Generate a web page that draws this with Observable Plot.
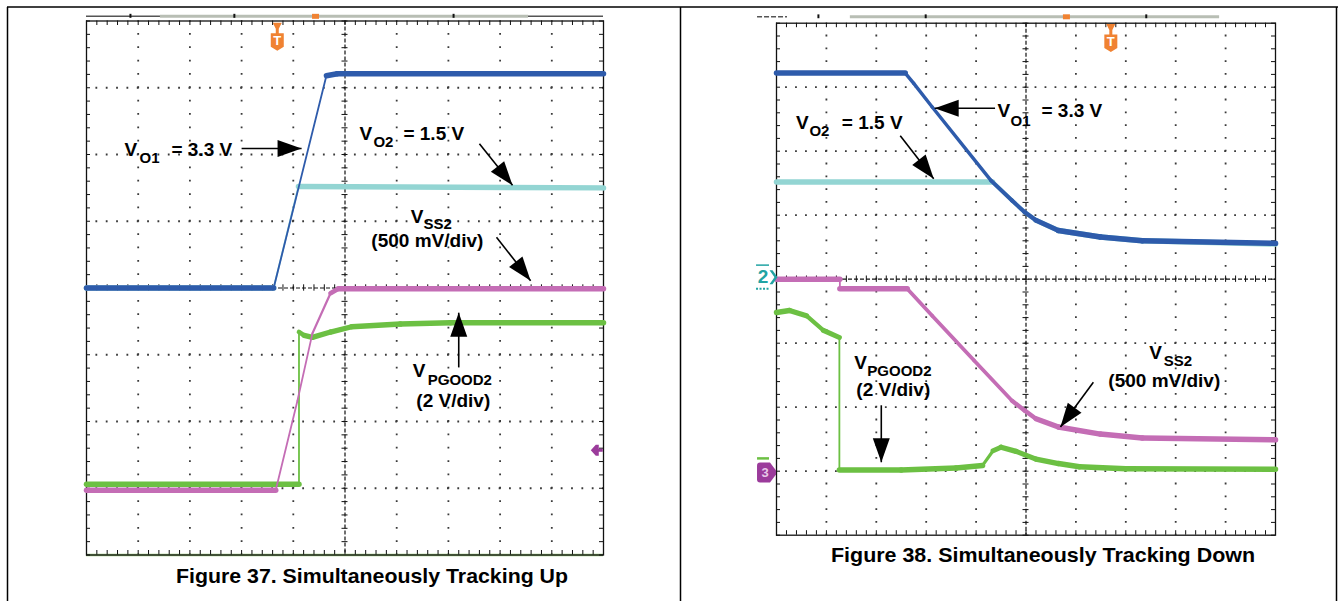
<!DOCTYPE html>
<html><head><meta charset="utf-8">
<script src="https://cdn.jsdelivr.net/npm/d3@7"></script>
<script src="https://cdn.jsdelivr.net/npm/@observablehq/plot@0.6"></script>
<style>
html,body{margin:0;padding:0;background:#fff;}
#root{position:relative;width:1338px;height:601px;overflow:hidden;background:#fff;}
#root > svg{position:absolute;top:0;}
</style></head><body><div id="root"></div>
<script>
// ---------- DATA (screen divisions: x 0..10, y 0..8) ----------
// Figure 37: tracking up
const upVO1X   = [0, 3.62, 4.64, 4.85, 10];
const upVO1Y   = [4.00, 4.00, 7.18, 7.21, 7.21];
const upVO2X   = [0, 3.62, 4.10, 10];
const upVO2Y   = [4.00, 4.00, 5.52, 5.50];
const upVSS2X  = [0, 3.66, 4.08, 4.37, 4.72, 4.87, 10];
const upVSS2Y  = [0.97, 0.97, 2.31, 3.32, 3.92, 3.99, 3.99];
const upPGX    = [0, 4.11, 4.11, 4.21, 4.37, 4.72, 5.13, 6.07, 7.04, 10];
const upPGY    = [1.06, 1.06, 3.34, 3.29, 3.26, 3.34, 3.42, 3.46, 3.48, 3.48];
// Figure 38: tracking down
const dnVO1X   = [0, 2.58, 2.75, 3.12, 4.30, 4.72, 4.97, 5.20, 5.65, 6.49, 7.33, 10];
const dnVO1Y   = [7.22, 7.22, 7.06, 6.69, 5.54, 5.23, 5.05, 4.92, 4.76, 4.66, 4.60, 4.56];
const dnVO2X   = [0, 4.33, 4.72, 4.97, 5.20, 5.65, 6.49, 7.33, 10];
const dnVO2Y   = [5.52, 5.52, 5.23, 5.05, 4.92, 4.76, 4.66, 4.60, 4.55];
const dnVSS2X  = [0, 1.27, 1.27, 2.62, 3.12, 3.96, 4.72, 4.97, 5.20, 5.65, 6.49, 7.33, 10];
const dnVSS2Y  = [4.00, 4.00, 3.85, 3.85, 3.43, 2.73, 2.10, 1.95, 1.82, 1.69, 1.58, 1.52, 1.49];
const dnPGX    = [0, 0.26, 0.60, 0.94, 1.26, 1.26, 2.50, 3.60, 4.13, 4.34, 4.50, 4.80, 5.20, 5.65, 6.07, 7.00, 10];
const dnPGY    = [3.48, 3.51, 3.43, 3.20, 3.09, 1.02, 1.02, 1.05, 1.09, 1.32, 1.375, 1.31, 1.19, 1.12, 1.07, 1.04, 1.03];

// annotation labels
const upMainText = ["V", "= 3.3 V", "V", "= 1.5 V", "V", "(500 mV/div)", "V", "(2 V/div)"];
const upMainX    = [0.735, 1.644, 5.28, 6.13, 6.27, 5.51, 6.31, 6.38];
const upMainY    = [5.985, 5.985, 6.21, 6.21, 4.98, 4.61, 2.66, 2.21];
const upSubText  = ["O1", "O2", "SS2", "PGOOD2"];
const upSubX     = [1.025, 5.55, 6.52, 6.60];
const upSubY     = [5.88, 6.11, 4.89, 2.55];
const upArrowX1  = [3.00, 7.60, 7.93, 7.20];
const upArrowY1  = [6.09, 6.16, 4.76, 2.81];
const upArrowX2  = [4.16, 8.24, 8.59, 7.20];
const upArrowY2  = [6.09, 5.54, 4.11, 3.63];

const dnMainText = ["V", "= 3.3 V", "V", "= 1.5 V", "V", "(2 V/div)", "V", "(500 mV/div)"];
const dnMainX    = [4.43, 5.31, 0.39, 1.31, 1.56, 1.60, 7.47, 6.65];
const dnMainY    = [6.53, 6.53, 6.35, 6.35, 2.60, 2.18, 2.76, 2.31];
const dnSubText  = ["O1", "O2", "PGOOD2", "SS2"];
const dnSubX     = [4.69, 0.66, 1.82, 7.76];
const dnSubY     = [6.40, 6.24, 2.49, 2.65];
const dnArrowX1  = [4.38, 2.48, 2.10, 6.35];
const dnArrowY1  = [6.67, 6.24, 2.03, 2.39];
const dnArrowX2  = [3.17, 3.15, 2.10, 5.69];
const dnArrowY2  = [6.67, 5.57, 1.14, 1.69];

// scope markers
const upTrigger = [3.69, 7.69];
const dnTrigger = [6.70, 7.69];
const gridXDivs = [1, 2, 3, 4, 6, 7, 8, 9];
const gridYDivs = [1, 2, 3, 5, 6, 7];

const captions = ["Figure 37. Simultaneously Tracking Up", "Figure 38. Simultaneously Tracking Down"];

// ---------- STYLE ----------
const FONT = "'Liberation Sans', Arial, Helvetica, sans-serif";
const COL = {vo1: "#2e5bab", vo2: "#93d5d3", vss2: "#c46db5", pg: "#6cc043", trig: "#f08232", ch2: "#21a3a3", ch3: "#9b3b9b"};

const headSymbol = {draw(c) { c.moveTo(0, 0); c.lineTo(-8.5, 24); c.lineTo(8.5, 24); c.closePath(); }};
const trigSymbol = {draw(c) {
  c.moveTo(-6.5, -8.5); c.lineTo(6.5, -8.5); c.lineTo(6.5, 5); c.lineTo(0, 9); c.lineTo(-6.5, 5); c.closePath();
  c.moveTo(-4.5, -19); c.lineTo(4.5, -19); c.lineTo(1.5, -13); c.lineTo(1.5, -8.5); c.lineTo(-1.5, -8.5); c.lineTo(-1.5, -13); c.closePath();
}};
const leftArrowSymbol = {draw(c) {
  c.moveTo(-6, 0); c.lineTo(-1, -5.5); c.lineTo(2, -5.5); c.lineTo(2, -1.5); c.lineTo(6, -1.5); c.lineTo(6, 1.5);
  c.lineTo(2, 1.5); c.lineTo(2, 5.5); c.lineTo(-1, 5.5); c.closePath();
}};
const ch3Symbol = {draw(c) {
  c.moveTo(-9, -7); c.quadraticCurveTo(-9, -10, -6, -10); c.lineTo(4, -10); c.lineTo(10, -2); c.lineTo(10, 2);
  c.lineTo(4, 10); c.lineTo(-6, 10); c.quadraticCurveTo(-9, 10, -9, 7); c.closePath();
}};
const chevronSymbol = {draw(c) { c.moveTo(-3, -7); c.lineTo(0, -7); c.lineTo(5, 0); c.lineTo(0, 7); c.lineTo(-3, 7); c.lineTo(2, 0); c.closePath(); }};
const smallRect = {draw(c) { c.rect(-3.5, -2.5, 7, 5); }};

function zip(xs, ys) { return xs.map((x, i) => ({x, y: ys[i]})); }

function panel(o) {
  const kx = (o.width - o.mL - o.mR) / 10, ky = (o.height - o.mT - o.mB) / 8;
  const minorX = d3.range(51).map(i => i / 5), minorY = d3.range(41).map(i => i / 5);
  const tx = 4 / kx, ty = 4.5 / ky, cx = 3 / kx, cy = 3.2 / ky;
  const marks = [];
  // dotted grid
  marks.push(Plot.ruleX(gridXDivs, {stroke: "#3a3a3a", strokeWidth: 1.8, strokeDasharray: `1.8,${ky / 5 - 1.8}`, strokeDashoffset: 0.9}));
  marks.push(Plot.ruleY(gridYDivs, {stroke: "#3a3a3a", strokeWidth: 1.8, strokeDasharray: `1.8,${kx / 5 - 1.8}`, strokeDashoffset: 0.9}));
  // centre axes
  marks.push(Plot.ruleX([5], {stroke: "#111", strokeWidth: 1.2, strokeDasharray: "4,2"}));
  marks.push(Plot.ruleY([4], {stroke: "#111", strokeWidth: 1.2, strokeDasharray: "4,2"}));
  marks.push(Plot.ruleX(minorX, {x: d => d, y1: 4 - cy, y2: 4 + cy, stroke: "#111", strokeWidth: 1}));
  marks.push(Plot.ruleY(minorY, {y: d => d, x1: 5 - cx, x2: 5 + cx, stroke: "#111", strokeWidth: 1}));
  // top indicator bar
  marks.push(Plot.ruleY([o.barY], {x1: o.barDark[0], x2: o.barDark[1], stroke: "#555", strokeWidth: 1.5, strokeDasharray: o.barDash}));
  marks.push(Plot.ruleY([o.barY], {x1: o.barLight[0], x2: o.barLight[1], stroke: "#b8beb4", strokeWidth: 3}));
  marks.push(Plot.ruleX(o.barTicks, {x: d => d, y1: o.barY - 0.03, y2: o.barY + 0.03, stroke: "#111", strokeWidth: 2}));
  marks.push(Plot.dot([o.barOrange], {x: d => d, y: () => o.barY, symbol: smallRect, fill: COL.trig, stroke: "none"}));
  // edge ticks + frame
  if (o.bottomColor) marks.push(Plot.ruleY([0], {stroke: o.bottomColor, strokeWidth: 2.5}));
  marks.push(Plot.ruleY(minorY, {y: d => d, x1: 0, x2: tx, stroke: "#111", strokeWidth: 1}));
  marks.push(Plot.ruleY(minorY, {y: d => d, x1: 10 - tx, x2: 10, stroke: "#111", strokeWidth: 1}));
  marks.push(Plot.ruleX(minorX, {x: d => d, y1: 8 - ty, y2: 8, stroke: "#111", strokeWidth: 1}));
  marks.push(Plot.ruleX(minorX, {x: d => d, y1: 0, y2: ty, stroke: "#111", strokeWidth: 1}));
  marks.push(Plot.frame({stroke: "#111", strokeWidth: 1.3}));
  // traces
  for (const s of o.series) {
    const p = zip(s.x, s.y), seg = [];
    for (let i = 0; i < p.length - 1; i++) {
      const a = p[i], b = p[i + 1];
      const dx = (b.x - a.x) * kx, dy = (b.y - a.y) * ky, len = Math.hypot(dx, dy) || 1;
      seg.push({x1: a.x, y1: a.y, x2: b.x, y2: b.y, w: Math.max(1.8, o.band * Math.abs(dx) / len)});
    }
    marks.push(Plot.link(seg, {x1: "x1", y1: "y1", x2: "x2", y2: "y2", stroke: s.color, strokeWidth: "w", strokeLinecap: "round"}));
  }
  // trigger marker
  marks.push(Plot.dot([o.trigger], {x: d => d[0], y: d => d[1], symbol: trigSymbol, fill: COL.trig, stroke: "none"}));
  marks.push(Plot.text([o.trigger], {x: d => d[0], y: d => d[1], text: () => "T", fill: "#fff", fontSize: 13, fontWeight: "bold", fontFamily: FONT, dy: -1}));
  // extra markers
  for (const m of o.extras) marks.push(m);
  // arrows
  const arrows = o.ax1.map((x1, i) => ({x1, y1: o.ay1[i], x2: o.ax2[i], y2: o.ay2[i]}));
  marks.push(Plot.link(arrows, {x1: "x1", y1: "y1", x2: "x2", y2: "y2", stroke: "#000", strokeWidth: 1.6}));
  marks.push(Plot.dot(arrows, {x: "x2", y: "y2", symbol: headSymbol, fill: "#000", stroke: "none",
    rotate: d => Math.atan2((d.x2 - d.x1) * kx, (d.y2 - d.y1) * ky) * 180 / Math.PI}));
  // labels
  const main = o.mainText.map((t, i) => ({t, x: o.mainX[i], y: o.mainY[i]}));
  const sub = o.subText.map((t, i) => ({t, x: o.subX[i], y: o.subY[i]}));
  marks.push(Plot.text(main, {x: "x", y: "y", text: "t", textAnchor: "start", lineAnchor: "bottom", fontSize: 19, fontWeight: "bold", fontFamily: FONT, fill: "#000"}));
  marks.push(Plot.text(sub, {x: "x", y: "y", text: "t", textAnchor: "start", lineAnchor: "bottom", fontSize: 15, fontWeight: "bold", fontFamily: FONT, fill: "#000"}));

  const svg = Plot.plot({
    width: o.width, height: o.height,
    marginLeft: o.mL, marginRight: o.mR, marginTop: o.mT, marginBottom: o.mB,
    x: {domain: [0, 10], axis: null}, y: {domain: [0, 8], axis: null},
    style: {background: "none", overflow: "visible"},
    marks
  });
  svg.style.left = o.left + "px";
  return svg;
}

const root = document.getElementById("root");

root.appendChild(panel({
  left: 0, width: 680, height: 601, mL: 86, mR: 77, mT: 20.5, mB: 46.5, band: 5.5,
  series: [
    {x: upVO2X, y: upVO2Y, color: COL.vo2},
    {x: upVO1X, y: upVO1Y, color: COL.vo1},
    {x: upPGX, y: upPGY, color: COL.pg},
    {x: upVSS2X, y: upVSS2Y, color: COL.vss2}
  ],
  trigger: upTrigger,
  barY: 8.07, barDark: [0, 10], barDash: null, barLight: [1.43, 8.55], barTicks: [0.85, 2.86, 7.10], barOrange: 4.43,
  bottomColor: "#9cc97c",
  extras: [
    Plot.dot([[9.87, 1.57]], {x: d => d[0], y: d => d[1], symbol: leftArrowSymbol, fill: COL.ch3, stroke: "none"})
  ],
  mainText: upMainText, mainX: upMainX, mainY: upMainY,
  subText: upSubText, subX: upSubX, subY: upSubY,
  ax1: upArrowX1, ay1: upArrowY1, ax2: upArrowX2, ay2: upArrowY2
}));

root.appendChild(panel({
  left: 680, width: 658, height: 601, mL: 96, mR: 63, mT: 22.7, mB: 66.3, band: 5.5,
  series: [
    {x: dnVO2X, y: dnVO2Y, color: COL.vo2},
    {x: dnVO1X, y: dnVO1Y, color: COL.vo1},
    {x: dnPGX, y: dnPGY, color: COL.pg},
    {x: dnVSS2X, y: dnVSS2Y, color: COL.vss2}
  ],
  trigger: dnTrigger,
  barY: 8.10, barDark: [-0.38, 0.22], barDash: "5,2", barLight: [1.48, 8.88], barTicks: [0.84, 2.99, 7.41], barOrange: 5.81,
  bottomColor: null,
  extras: [
    Plot.text([[-0.27, 4.03]], {x: d => d[0], y: d => d[1], text: () => "2", fill: COL.ch2, fontSize: 19, fontWeight: "bold", fontFamily: FONT}),
    Plot.dot([[-0.08, 4.03]], {x: d => d[0], y: d => d[1], symbol: chevronSymbol, fill: COL.ch2, stroke: "none"}),
    Plot.ruleY([3.85], {x1: -0.40, x2: -0.14, stroke: COL.ch2, strokeWidth: 2, strokeDasharray: "2,1.5"}),
    Plot.ruleY([4.22], {x1: -0.40, x2: -0.14, stroke: COL.ch2, strokeWidth: 1.5}),
    Plot.ruleY([1.20], {x1: -0.38, x2: -0.14, stroke: "#6cc043", strokeWidth: 2.5}),
    Plot.dot([[-0.21, 0.98]], {x: d => d[0], y: d => d[1], symbol: ch3Symbol, fill: COL.ch3, stroke: "none"}),
    Plot.text([[-0.23, 0.98]], {x: d => d[0], y: d => d[1], text: () => "3", fill: "#e8c8e8", fontSize: 13, fontWeight: "bold", fontFamily: FONT})
  ],
  mainText: dnMainText, mainX: dnMainX, mainY: dnMainY,
  subText: dnSubText, subX: dnSubX, subY: dnSubY,
  ax1: dnArrowX1, ay1: dnArrowY1, ax2: dnArrowX2, ay2: dnArrowY2
}));

// page frame lines and figure captions
const ns = "http://www.w3.org/2000/svg";
const over = document.createElementNS(ns, "svg");
over.setAttribute("width", 1338); over.setAttribute("height", 601);
over.style.left = "0px"; over.style.pointerEvents = "none";
const lines = [[7, 7, 1338, 7], [7.5, 7, 7.5, 601], [680.5, 7, 680.5, 601], [1336.5, 7, 1336.5, 601]];
for (const [x1, y1, x2, y2] of lines) {
  const l = document.createElementNS(ns, "line");
  l.setAttribute("x1", x1); l.setAttribute("y1", y1); l.setAttribute("x2", x2); l.setAttribute("y2", y2);
  l.setAttribute("stroke", "#000"); l.setAttribute("stroke-width", 1.5);
  over.appendChild(l);
}
const capPos = [[176, 583, 392], [831, 561.7, 424]];
captions.forEach((c, i) => {
  const t = document.createElementNS(ns, "text");
  t.setAttribute("x", capPos[i][0]); t.setAttribute("y", capPos[i][1]);
  t.setAttribute("textLength", capPos[i][2]); t.setAttribute("lengthAdjust", "spacingAndGlyphs");
  t.setAttribute("font-family", FONT); t.setAttribute("font-weight", "bold"); t.setAttribute("font-size", 21);
  t.textContent = c;
  over.appendChild(t);
});
root.appendChild(over);
</script></body></html>
